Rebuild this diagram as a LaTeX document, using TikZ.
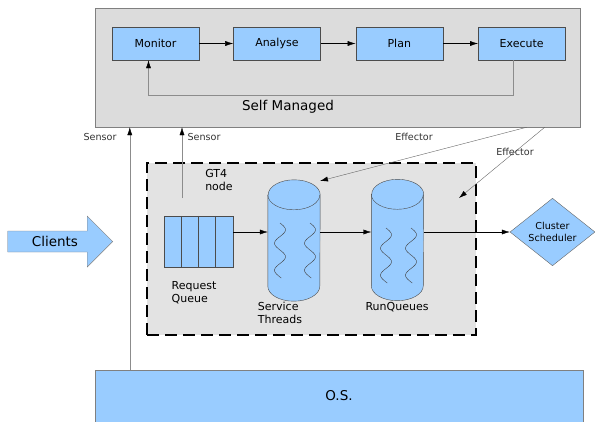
\documentclass[tikz,border=0pt]{standalone}
\usepackage{fontspec}
\setmainfont{DejaVu Sans}
\usepackage{tikz}
\usetikzlibrary{arrows.meta}
\usetikzlibrary{positioning}
\usetikzlibrary{shapes.geometric}
\usetikzlibrary{shapes.arrows}
\definecolor{paleblue}{HTML}{99CCFF}
\definecolor{boxgrey}{HTML}{DCDCDC}
\definecolor{nodegrey}{HTML}{E3E3E3}
\newcommand{\bigfont}{\fontsize{13.5}{16}\selectfont}
\newcommand{\midfont}{\fontsize{11}{13}\selectfont}
\newcommand{\smallfont}{\fontsize{9.6}{12}\selectfont}

\begin{document}
\begin{tikzpicture}[x=1pt,y=-1pt,>={Latex[length=8pt,width=5pt,black]},
    loopbox/.style={draw=black!70,fill=paleblue,minimum width=87pt,minimum height=33pt,inner sep=0pt,font=\midfont},
    drum/.style={minimum width=52pt,minimum height=121pt,inner sep=0pt},
    rim/.style={x radius=26pt,y radius=15pt},
    wave/.style={black!75,smooth,samples=40,domain=0:55},
    probe/.style={->,draw=black!45},
    tag/.style={text=black!80,inner sep=1pt,font=\smallfont}]
  \useasboundingbox (0,0) rectangle (595,421);

  \node[draw=black!50,fill=boxgrey,minimum width=485pt,minimum height=119pt] (sm) at (337.5,67.5) {};
  \node[loopbox] (mon) at (155.5,43.5) {Monitor};
  \node[loopbox,right=34pt of mon] (ana) {Analyse};
  \node[loopbox,right=35pt of ana] (pla) {Plan};
  \node[loopbox,right=35pt of pla] (exe) {Execute};
  \node[font=\bigfont] (selfm) at (288,107) {Self Managed};
    \draw[->] (mon) -- (ana);
    \draw[->] (ana) -- (pla);
    \draw[->] (pla) -- (exe);
    \draw[->,draw=black!45] ([xshift=-9pt]exe.south) -- ++(0,35) -| ([xshift=-7pt]mon.south);

  \node[draw,line width=2pt,dash pattern=on 12pt off 6pt,fill=nodegrey,minimum width=329pt,minimum height=172pt] (gt) at (311.5,249) {};
  \node[font=\midfont,align=left] (gtl) at (219,180) {GT4\\node};

  \node[draw=black!70,fill=paleblue,minimum width=69pt,minimum height=51pt] (rq) at (198.5,241.5) {};
  \foreach \i in {1,2,3}
    \draw[black!70] ([xshift=\i*17.25pt]rq.north west) -- ([xshift=\i*17.25pt]rq.south west);
  \node[font=\midfont,align=left] (rql) at (194,293) {Request\\Queue};

  % the two drums
  \node[drum] (st) at (294,240.5) {};
  \node[drum] (rr) at (397.5,240) {};
  \foreach \d in {st,rr} {
    \filldraw[draw=black!70,fill=paleblue] ([yshift=-15pt]\d.north west) -- ([yshift=15pt]\d.south west)
      arc[rim,start angle=180,end angle=360] -- ([yshift=-15pt]\d.north east)
      arc[rim,start angle=0,end angle=180] -- cycle;
    \draw[black!70] ([yshift=-15pt]\d.north west) arc[rim,start angle=180,end angle=360];
  }
  \foreach \wx/\wy in {280/223,310/223,386/228,411/228}
    \draw[wave] plot ({\wx+5.5*sin(\x*13.33)},{\wy+\x});
  \node[font=\midfont,align=left] (stl) at (280,313) {Service\\Threads};
  \node[font=\midfont] (rrl) at (397,307) {RunQueues};

  \node[diamond,draw=black!60,fill=paleblue,minimum width=85pt,minimum height=66pt,inner sep=0pt,font=\smallfont,align=center] (cs) at (552.5,232) {Cluster\\Scheduler};

    \draw[->] (rq.east |- cs.west) -- (st.west |- cs.west);
    \draw[->] (st.east |- cs.west) -- (rr.west |- cs.west);
    \draw[->] (rr.east |- cs.west) -- (cs.west);

  \node[single arrow,draw=black!50,fill=paleblue,font=\bigfont,minimum height=105pt,minimum width=51pt,single arrow head extend=12.5pt,anchor=tip] (cl) at (113,241.5) {Clients};

  \node[draw=black!50,fill=paleblue,minimum width=488pt,minimum height=52pt,font=\bigfont] (os) at (339,396) {O.S.};

    \draw[probe] ([xshift=35pt]os.north west) -- ([xshift=35pt]sm.south west);
    \node[tag] (sen1) at (100,137) {Sensor};
  \coordinate (tap) at (182,198);
    \draw[probe] (tap) -- (tap |- sm.south);
    \node[tag] (sen2) at (204,137) {Sensor};

  \coordinate (eff1) at (320,181);
  \coordinate (eff2) at (459,198);
    \draw[->,black!60,thin] ([xshift=432pt]sm.south west) -- (eff1);
    \draw[->,black!60,thin] ([xshift=450pt]sm.south west) -- (eff2);
    \node[tag] (efl1) at (414,137) {Effector};
    \node[tag] (efl2) at (515,152) {Effector};
\end{tikzpicture}
\end{document}
